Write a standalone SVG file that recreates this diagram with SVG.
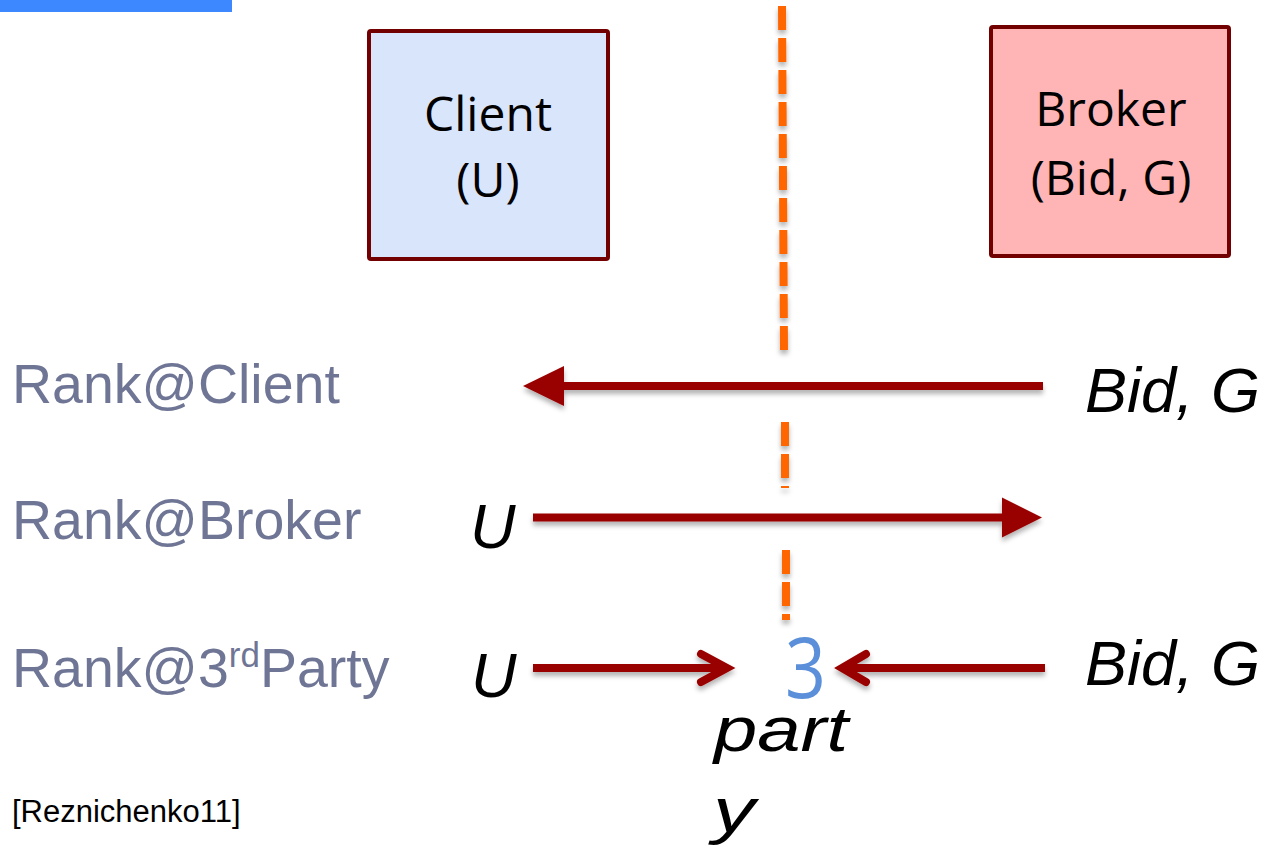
<svg xmlns="http://www.w3.org/2000/svg" width="1266" height="849" viewBox="0 0 1266 849">
  <style>
    .box { stroke: #720000; stroke-width: 4; }
    .boxText { font-family: "Open Sans", "Noto Sans", sans-serif; font-size: 48px; fill: #000; text-anchor: middle; }
    .rowLabel { font-family: "Liberation Sans", Arial, sans-serif; font-size: 55.5px; fill: #6f7595; }
    .var { font-family: "Liberation Sans", Arial, sans-serif; font-style: italic; font-size: 63px; fill: #000; }
    .flow { stroke: #990000; stroke-width: 8; fill: none; }
    .head { fill: #990000; }
    .divider { stroke: #ff6600; stroke-width: 8; stroke-dasharray: 24 8; fill: none; }
  </style>
  <defs>
    <filter id="shadow" filterUnits="userSpaceOnUse" x="0" y="0" width="1266" height="849">
      <feDropShadow dx="0" dy="4" stdDeviation="2.5" flood-color="#000" flood-opacity="0.3"/>
    </filter>
  </defs>

  <rect width="1266" height="849" fill="#ffffff"/>

  <!-- title accent bar -->
  <rect x="0" y="0" width="232" height="12" fill="#3d88ff"/>

  <!-- trust boundary between client and broker -->
  <g id="divider" filter="url(#shadow)">
    <line class="divider" x1="782" y1="6" x2="784" y2="350"/>
    <line class="divider" x1="785" y1="422" x2="785" y2="488"/>
    <line class="divider" x1="786" y1="550" x2="786" y2="620"/>
  </g>

  <g id="client">
    <rect class="box" x="369" y="31" width="239" height="228" rx="2" fill="#d9e5fb"/>
    <text class="boxText" x="488" y="131">Client</text>
    <text class="boxText" x="488" y="197">(U)</text>
  </g>

  <g id="broker">
    <rect class="box" x="991" y="27" width="238" height="229" rx="2" fill="#ffb5b5"/>
    <text class="boxText" x="1111" y="126">Broker</text>
    <text class="boxText" x="1111" y="195">(Bid, G)</text>
  </g>

  <!-- row labels -->
  <g id="labels">
    <text class="rowLabel" x="12" y="403">Rank@Client</text>
    <text class="rowLabel" x="12" y="539">Rank@Broker</text>
    <text class="rowLabel" x="12" y="687">Rank@3<tspan font-size="35px" dy="-20">rd</tspan><tspan dy="20">Party</tspan></text>
    <text x="12" y="822" font-family="'Liberation Sans', Arial, sans-serif" font-size="31px" fill="#000">[Reznichenko11]</text>
  </g>

  <!-- data carried on each flow -->
  <g id="values">
    <text class="var" x="1085" y="412">Bid, G</text>
    <text class="var" x="470" y="548">U</text>
    <text class="var" x="471" y="697">U</text>
    <text class="var" x="1085" y="685">Bid, G</text>
    <text x="785" y="698" font-family="'Open Sans', 'Noto Sans', sans-serif" font-size="84px" fill="#5b8fd9" textLength="41" lengthAdjust="spacingAndGlyphs">3</text>
    <text class="var" x="714" y="751" font-size="66px" textLength="134" lengthAdjust="spacingAndGlyphs">part</text>
    <text class="var" x="713" y="832" font-size="66px" textLength="42" lengthAdjust="spacingAndGlyphs">y</text>
  </g>

  <g id="connectors" filter="url(#shadow)">
    <!-- Rank@Client: broker sends Bid, G to the client -->
    <line class="flow" x1="1043" y1="386" x2="560" y2="386"/>
    <polygon class="head" points="523,386 564,366 564,406"/>
    <!-- Rank@Broker: client sends U to the broker -->
    <line class="flow" x1="533" y1="517.5" x2="1005" y2="517.5"/>
    <polygon class="head" points="1042,517.5 1002,497.5 1002,537.5"/>
    <!-- Rank@3rdParty: both sides send to the third party -->
    <line class="flow" x1="533" y1="668" x2="726" y2="668"/>
    <polyline class="flow" stroke-linecap="round" points="701,654 727,668 701,682"/>
    <line class="flow" x1="1045" y1="668" x2="845" y2="668"/>
    <polyline class="flow" stroke-linecap="round" points="866,654 842,668 866,682"/>
  </g>
</svg>
